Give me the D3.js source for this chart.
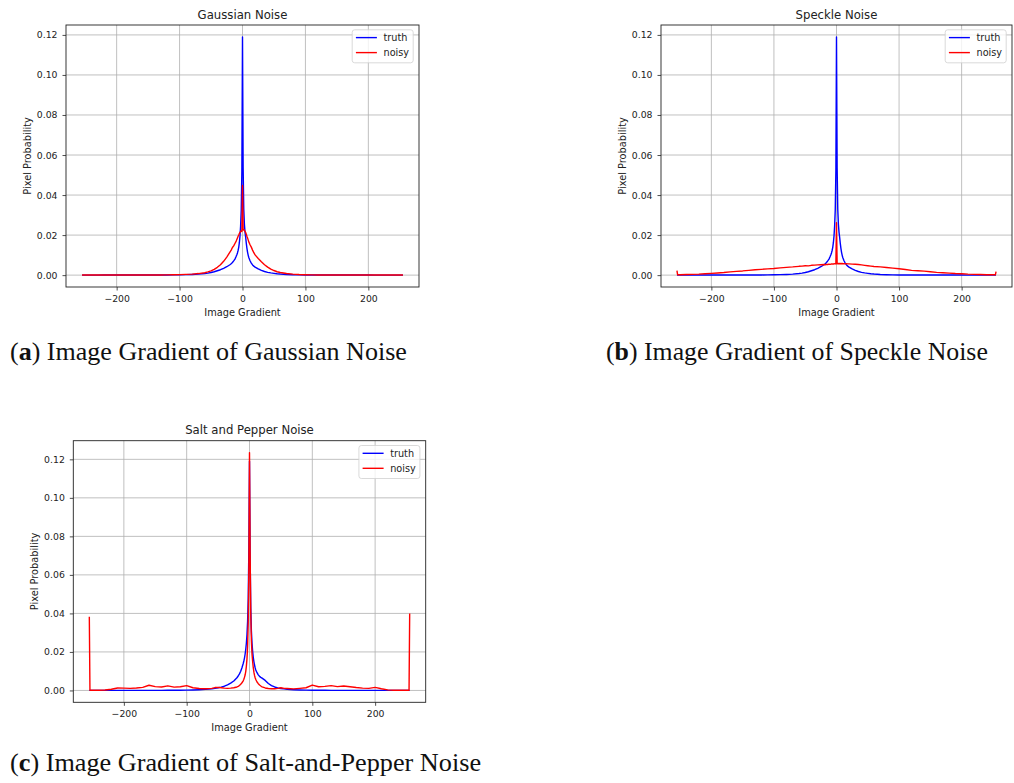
<!DOCTYPE html>
<html>
<head>
<meta charset="utf-8">
<script src="https://cdn.jsdelivr.net/npm/d3@7"></script>
<style>
  body { margin: 0; background: #fff; }
  svg { display: block; }
</style>
</head>
<body>
<div id="container"></div>
<script>
// gradient bins (sampled), shared by every series
const xs = [-255, -254, -250,
  -240, -230, -220, -210, -200, -190, -180, -170, -160, -150, -140, -130, -120, -110, -100, -90, -80, -70, -60,
  -55, -50, -45, -40, -35, -30, -25,
  -20, -18, -16, -14, -12,
  -10, -9, -8, -7, -6, -5, -4, -3, -2, -1, 0, 1, 2, 3, 4, 5, 6, 7, 8, 9, 10,
  12, 14, 16, 18, 20,
  25, 30, 35, 40, 45, 50, 55,
  60, 70, 80, 90, 100, 110, 120, 130, 140, 150, 160, 170, 180, 190, 200, 210, 220, 230, 240,
  250, 254, 255];

// clean image gradient (panels a, b)
const truthAB = [0.00002, 0.00002, 0.00002,
  0.00002, 0.00002, 0.00003, 0.00003, 0.00003, 0.00004, 0.00004, 0.00005, 0.00006, 0.00007, 0.00007, 0.00008, 0.0001, 0.00013, 0.00018, 0.00025, 0.00035, 0.0005, 0.0008,
  0.001, 0.0013, 0.0017, 0.0022, 0.0027, 0.0034, 0.0042,
  0.0052, 0.0057, 0.0063, 0.0071, 0.0080,
  0.0094, 0.0102, 0.0111, 0.0123, 0.0139, 0.0162, 0.0195, 0.0245, 0.0325, 0.0520, 0.1190, 0.0540, 0.0330, 0.0255, 0.0215, 0.0190, 0.0160, 0.0135, 0.0115, 0.0100, 0.0088,
  0.0072, 0.0060, 0.0051, 0.0045, 0.0040,
  0.0031, 0.0024, 0.0018, 0.0014, 0.0011, 0.0009, 0.0007,
  0.00055, 0.00035, 0.00022, 0.00014, 0.0001, 0.00008, 0.00007, 0.00006, 0.00005, 0.00005, 0.00004, 0.00004, 0.00003, 0.00003, 0.00003, 0.00002, 0.00002, 0.00002, 0.00002,
  0.00002, 0.00002, 0.00002];

const noisyGaussian = [0.00003, 0.00003, 0.00003,
  0.00003, 0.00003, 0.00003, 0.00004, 0.00004, 0.00004, 0.00005, 0.00005, 0.00006, 0.00007, 0.00008, 0.0001, 0.00013, 0.00018, 0.00025, 0.00036, 0.00052, 0.00078, 0.0012,
  0.0016, 0.0021, 0.0029, 0.0039, 0.0052, 0.0069, 0.0090,
  0.0115, 0.0125, 0.0138, 0.0146, 0.0158,
  0.0170, 0.0178, 0.0186, 0.0194, 0.0200, 0.0208, 0.0214, 0.0219, 0.0222, 0.0218, 0.0448, 0.0225, 0.0228, 0.0224, 0.0219, 0.0213, 0.0204, 0.0194, 0.0186, 0.0176, 0.0166,
  0.0152, 0.0140, 0.0125, 0.0112, 0.0101,
  0.0083, 0.0067, 0.0052, 0.0040, 0.0030, 0.0023, 0.0017,
  0.0013, 0.0008, 0.0005, 0.00032, 0.00022, 0.00014, 0.0001, 0.00008, 0.00006, 0.00005, 0.00005, 0.00004, 0.00004, 0.00004, 0.00003, 0.00003, 0.00003, 0.00003, 0.00003,
  0.00003, 0.00003, 0.00003];

const noisySpeckle = [0.0022, 0.0002, 0.0002,
  0.0003, 0.0004, 0.0005, 0.0007, 0.0009, 0.0011, 0.0013, 0.0016, 0.0019, 0.0021, 0.0024, 0.0027, 0.0029, 0.0031, 0.0033, 0.0036, 0.0039, 0.0041, 0.0044,
  0.0045, 0.0047, 0.0046, 0.0049, 0.0050, 0.0051, 0.0052,
  0.0053, 0.0052, 0.0054, 0.0053, 0.0055,
  0.0054, 0.0055, 0.0056, 0.0055, 0.0056, 0.0055, 0.0057, 0.0056, 0.0057, 0.0056, 0.0262, 0.0058, 0.0057, 0.0058, 0.0057, 0.0058, 0.0057, 0.0058, 0.0057, 0.0058, 0.0057,
  0.0057, 0.0056, 0.0057, 0.0056, 0.0056,
  0.0055, 0.0054, 0.0053, 0.0051, 0.0049, 0.0047, 0.0045,
  0.0043, 0.0041, 0.0038, 0.0035, 0.0032, 0.0028, 0.0024, 0.0022, 0.0020, 0.0017, 0.0014, 0.0012, 0.0010, 0.0008, 0.0007, 0.0005, 0.0004, 0.0003, 0.0002,
  0.0002, 0.0002, 0.0018];

// clean image gradient (panel c)
const truthC = [0.00002, 0.00002, 0.00002,
  0.00002, 0.00002, 0.00002, 0.00003, 0.00003, 0.00003, 0.00004, 0.00004, 0.00005, 0.00005, 0.00006, 0.00008, 0.0001, 0.00013, 0.00018, 0.00026, 0.0004, 0.0006, 0.0009,
  0.0011, 0.0014, 0.0017, 0.0022, 0.0029, 0.0038, 0.0049,
  0.0066, 0.0075, 0.0086, 0.0100, 0.0118,
  0.0140, 0.0153, 0.0168, 0.0188, 0.0212, 0.0245, 0.0290, 0.0360, 0.0480, 0.0750, 0.1190, 0.0700, 0.0430, 0.0310, 0.0245, 0.0203, 0.0172, 0.0150, 0.0132, 0.0118, 0.0106,
  0.0092, 0.0081, 0.0073, 0.0068, 0.0064,
  0.0052, 0.0036, 0.0025, 0.0018, 0.0013, 0.0010, 0.0008,
  0.0006, 0.0004, 0.00026, 0.00018, 0.00013, 0.0001, 0.00008, 0.00006, 0.00005, 0.00005, 0.00004, 0.00004, 0.00003, 0.00003, 0.00003, 0.00002, 0.00002, 0.00002, 0.00002,
  0.00002, 0.00002, 0.00002];

const noisySaltPepper = [0.0383, 0.0001, 0.0001,
  0.0001, 0.0002, 0.0006, 0.0013, 0.0012, 0.0011, 0.0013, 0.0016, 0.0027, 0.0020, 0.0018, 0.0024, 0.0017, 0.0019, 0.0025, 0.0014, 0.0010, 0.0009, 0.0011,
  0.0015, 0.0016, 0.0014, 0.0012, 0.0011, 0.0012, 0.0014,
  0.0018, 0.0021, 0.0026, 0.0032, 0.0040,
  0.0050, 0.0058, 0.0068, 0.0080, 0.0098, 0.0125, 0.0165, 0.0230, 0.0360, 0.0650, 0.1235, 0.0720, 0.0400, 0.0260, 0.0190, 0.0150, 0.0118, 0.0095, 0.0078, 0.0066, 0.0057,
  0.0044, 0.0035, 0.0028, 0.0023, 0.0019,
  0.0013, 0.0010, 0.0009, 0.0009, 0.0011, 0.0014, 0.0011,
  0.0010, 0.0008, 0.0011, 0.0014, 0.0028, 0.0019, 0.0021, 0.0025, 0.0020, 0.0023, 0.0019, 0.0015, 0.0012, 0.0011, 0.0016, 0.0009, 0.0003, 0.0001, 0.0001,
  0.0001, 0.0001, 0.0400];

const xTicks = [-200, -100, 0, 100, 200];
const yTicks = [0, 0.02, 0.04, 0.06, 0.08, 0.10, 0.12];
const seriesNames = ["truth", "noisy"];
const seriesColors = ["#0000ff", "#ff0000"];

const titles = ["Gaussian Noise", "Speckle Noise", "Salt and Pepper Noise"];
const captionLetters = ["a", "b", "c"];
const captionTexts = ["Image Gradient of Gaussian Noise", "Image Gradient of Speckle Noise", "Image Gradient of Salt-and-Pepper Noise"];

const panelData = [
  [truthAB, noisyGaussian],
  [truthAB, noisySpeckle],
  [truthC, noisySaltPepper]
];

// layout of each axes box and caption
const layout = [
  {left: 66, right: 419, top: 25, bottom: 287, capX: 10, capY: 360, capW: 397},
  {left: 661, right: 1012, top: 25, bottom: 287, capX: 606, capY: 360, capW: 382},
  {left: 73.3, right: 425.7, top: 440.7, bottom: 702.3, capX: 10, capY: 771, capW: 471}
];

const width = 1014, height = 783;
const sans = "DejaVu Sans, sans-serif";

const svg = d3.select("#container").append("svg")
  .attr("width", width)
  .attr("height", height)
  .attr("viewBox", [0, 0, width, height]);

svg.append("rect").attr("width", width).attr("height", height).attr("fill", "#fff");

const fmtX = d => d < 0 ? "\u2212" + Math.abs(d) : String(d);
const fmtY = d3.format(".2f");

titles.forEach((title, i) => {
  const L = layout[i];
  const series = panelData[i];

  const xPad = (255 - (-255)) * 0.05;
  const x = d3.scaleLinear()
    .domain([-255 - xPad, 255 + xPad])
    .range([L.left, L.right]);

  const all = series.flat();
  const [lo, hi] = d3.extent(all);
  const yPad = (hi - lo) * 0.05;
  const y = d3.scaleLinear()
    .domain([lo - yPad, hi + yPad])
    .range([L.bottom, L.top]);

  const g = svg.append("g");

  // grid
  g.append("g").selectAll("line")
    .data(xTicks)
    .join("line")
    .attr("x1", d => x(d)).attr("x2", d => x(d))
    .attr("y1", L.top).attr("y2", L.bottom)
    .attr("stroke", "#b0b0b0").attr("stroke-width", 0.8);
  g.append("g").selectAll("line")
    .data(yTicks)
    .join("line")
    .attr("x1", L.left).attr("x2", L.right)
    .attr("y1", d => y(d)).attr("y2", d => y(d))
    .attr("stroke", "#b0b0b0").attr("stroke-width", 0.8);

  // lines
  const line = d3.line()
    .x((d, k) => x(xs[k]))
    .y(d => y(d));
  series.forEach((vals, s) => {
    g.append("path")
      .datum(vals)
      .attr("fill", "none")
      .attr("stroke", seriesColors[s])
      .attr("stroke-width", 1.4)
      .attr("stroke-linejoin", "round")
      .attr("d", line);
  });

  // axes
  const xAxis = g.append("g")
    .attr("transform", `translate(0,${L.bottom})`)
    .call(d3.axisBottom(x).tickValues(xTicks).tickFormat(fmtX).tickSize(3.5).tickPadding(4.9));
  const yAxis = g.append("g")
    .attr("transform", `translate(${L.left},0)`)
    .call(d3.axisLeft(y).tickValues(yTicks).tickFormat(fmtY).tickSize(3.5).tickPadding(5));
  [xAxis, yAxis].forEach(ax => {
    ax.select(".domain").remove();
    ax.selectAll(".tick line").attr("stroke", "#222").attr("stroke-width", 0.8);
    ax.selectAll(".tick text")
      .attr("fill", "#222")
      .style("font-family", sans)
      .style("font-size", "9.3px");
  });

  // frame
  g.append("rect")
    .attr("x", L.left).attr("y", L.top)
    .attr("width", L.right - L.left).attr("height", L.bottom - L.top)
    .attr("fill", "none").attr("stroke", "#222").attr("stroke-width", 0.9);

  // title and axis labels
  g.append("text")
    .attr("x", (L.left + L.right) / 2).attr("y", L.top - 6.5)
    .attr("text-anchor", "middle")
    .style("font-family", sans).style("font-size", "11.7px")
    .attr("fill", "#222")
    .text(title);
  g.append("text")
    .attr("x", (L.left + L.right) / 2).attr("y", L.bottom + 28.5)
    .attr("text-anchor", "middle")
    .style("font-family", sans).style("font-size", "9.8px")
    .attr("fill", "#222")
    .text("Image Gradient");
  g.append("text")
    .attr("transform", `translate(${L.left - 35.5},${(L.top + L.bottom) / 2}) rotate(-90)`)
    .attr("text-anchor", "middle")
    .style("font-family", sans).style("font-size", "9.8px")
    .attr("fill", "#222")
    .text("Pixel Probability");

  // legend
  const lg = g.append("g")
    .attr("transform", `translate(${L.right - 5.8 - 61},${L.top + 4.8})`);
  lg.append("rect")
    .attr("width", 61).attr("height", 33)
    .attr("rx", 2.5)
    .attr("fill", "#fff").attr("fill-opacity", 0.8)
    .attr("stroke", "#d0d0d0").attr("stroke-width", 0.8);
  seriesNames.forEach((name, s) => {
    const ly = 7.8 + s * 15;
    lg.append("line")
      .attr("x1", 3.7).attr("x2", 24.7)
      .attr("y1", ly).attr("y2", ly)
      .attr("stroke", seriesColors[s]).attr("stroke-width", 1.4);
    lg.append("text")
      .attr("x", 31.3).attr("y", ly + 3.4)
      .style("font-family", sans).style("font-size", "9.7px")
      .attr("fill", "#222")
      .text(name);
  });

  // caption under the panel
  const cap = svg.append("text")
    .attr("x", L.capX).attr("y", L.capY)
    .style("font-family", "Liberation Serif, serif")
    .style("font-size", "24px")
    .attr("fill", "#111");
  cap.append("tspan").text("(");
  cap.append("tspan").attr("font-weight", "bold").text(captionLetters[i]);
  cap.append("tspan").text(") " + captionTexts[i]);
  const w = cap.node().getComputedTextLength();
  cap.style("font-size", (24 * L.capW / w).toFixed(2) + "px");
});
</script>
</body>
</html>
